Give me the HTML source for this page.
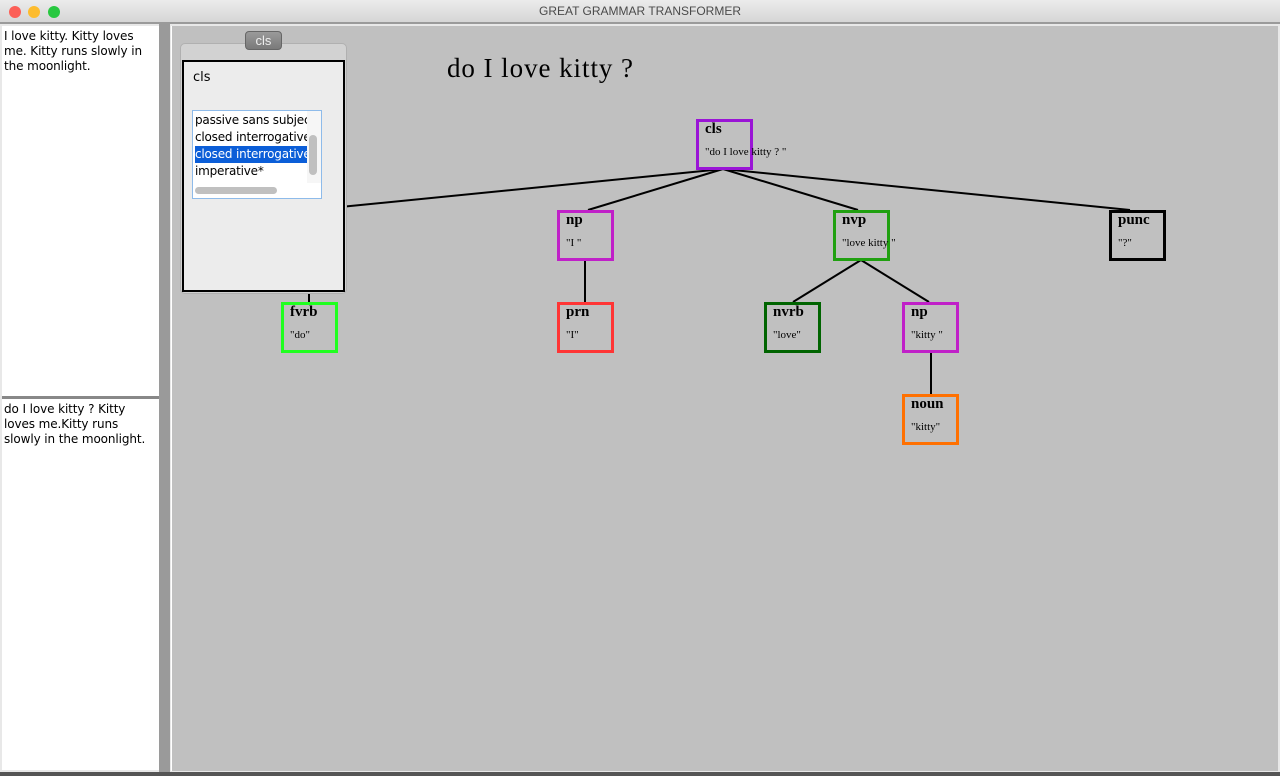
<!DOCTYPE html>
<html><head><style>
*{margin:0;padding:0;box-sizing:border-box}
body{width:1280px;height:776px;overflow:hidden;background:#9a9a9a;position:relative;font-family:"Liberation Sans",sans-serif}
.abs{position:absolute}
.title{left:0;top:0;width:1280px;height:23px;background:linear-gradient(#ececec,#d6d6d6);border-bottom:1px solid #9a9a9a;text-align:center;font-size:12px;color:#4a4a4a;line-height:23px}
.dot{top:6px;width:12px;height:12px;border-radius:50%}
.ta{background:#fff;font-family:"DejaVu Sans",sans-serif;font-size:12px;line-height:15px;color:#000;padding:3px 2px;letter-spacing:-0.1px}
.node{position:absolute;width:57px;height:51px;border:3px solid;font-family:"Liberation Serif",serif;color:#000}
.node b{position:absolute;left:6px;top:-1px;font-size:15px;font-weight:bold}
.node i{position:absolute;left:6px;top:24px;font-size:11px;font-style:normal;white-space:nowrap}
</style></head><body>
<div class="abs title">GREAT GRAMMAR TRANSFORMER</div>
<div class="abs dot" style="left:9px;background:#fc5f57"></div>
<div class="abs dot" style="left:28px;background:#fdbc2e"></div>
<div class="abs dot" style="left:48px;background:#28c840"></div>
<div class="abs" style="left:0;top:24px;width:1280px;height:752px;background:#e8e8e8"></div>
<div class="abs" style="left:159px;top:24px;width:11px;height:748px;background:#9a9a9a"></div>
<div class="abs ta" style="left:2px;top:26px;width:157px;height:370px">I love kitty. Kitty loves me. Kitty runs slowly in the moonlight.</div>
<div class="abs" style="left:2px;top:396px;width:157px;height:3px;background:#888"></div>
<div class="abs ta" style="left:2px;top:399px;width:157px;height:371px">do I love kitty ? Kitty loves me.Kitty runs slowly in the moonlight.</div>
<div class="abs" style="left:0;top:772px;width:1280px;height:4px;background:#555"></div>
<div class="abs" style="left:171px;top:26px;width:1107px;height:745px;background:#c0c0c0;border-left:1px solid #fff"></div>
<svg class="abs" style="left:0;top:0" width="1280" height="776">
<g stroke="#000" stroke-width="2" fill="none">
<line x1="723" y1="169" x2="310" y2="210"/>
<line x1="309" y1="290" x2="309" y2="303"/>
<line x1="723" y1="169" x2="588" y2="210"/>
<line x1="723" y1="169" x2="858" y2="210"/>
<line x1="723" y1="169" x2="1130" y2="210"/>
<line x1="585" y1="260" x2="585" y2="302"/>
<line x1="861" y1="260" x2="793" y2="302"/>
<line x1="861" y1="260" x2="929" y2="302"/>
<line x1="931" y1="352" x2="931" y2="394"/>
</g>
<text x="447" y="77" font-family="Liberation Serif,serif" font-size="27" textLength="186" lengthAdjust="spacing" fill="#000">do I love kitty ?</text>
</svg>
<div class="node" style="left:696px;top:119px;border-color:#9a14d6"><b>cls</b><i>"do I love kitty ? "</i></div>
<div class="node" style="left:557px;top:210px;border-color:#c020c8"><b>np</b><i>"I "</i></div>
<div class="node" style="left:833px;top:210px;border-color:#20a010"><b>nvp</b><i>"love kitty "</i></div>
<div class="node" style="left:1109px;top:210px;border-color:#000"><b>punc</b><i>"?"</i></div>
<div class="node" style="left:281px;top:302px;border-color:#20ff20"><b>fvrb</b><i>"do"</i></div>
<div class="node" style="left:557px;top:302px;border-color:#ff3535"><b>prn</b><i>"I"</i></div>
<div class="node" style="left:764px;top:302px;border-color:#006400"><b>nvrb</b><i>"love"</i></div>
<div class="node" style="left:902px;top:302px;border-color:#c020c8"><b>np</b><i>"kitty "</i></div>
<div class="node" style="left:902px;top:394px;border-color:#ff7000"><b>noun</b><i>"kitty"</i></div>
<!-- panel -->
<div class="abs" style="left:180px;top:43px;width:167px;height:251px;background:#d2d2d2;border:1px solid #b0b0b0;border-radius:5px"></div>
<div class="abs" style="left:245px;top:31px;width:37px;height:19px;background:linear-gradient(#9a9a9a,#7a7a7a);border:1px solid #666;border-radius:4px;color:#eee;font-size:13px;text-align:center;line-height:17px">cls</div>
<div class="abs" style="left:182px;top:60px;width:163px;height:232px;background:#ececec;border:2px solid #000"></div>
<div class="abs" style="left:193px;top:70px;font-family:'DejaVu Sans',sans-serif;font-size:13px;color:#000">cls</div>
<div class="abs" style="left:192px;top:110px;width:130px;height:89px;background:#fff;border:1px solid #8ebbea;overflow:hidden;font-family:'DejaVu Sans',sans-serif;font-size:12px;line-height:17px;color:#000;letter-spacing:-0.2px">
<div style="position:absolute;left:2px;top:1px;width:112px;white-space:nowrap;overflow:hidden">passive sans subject<br>closed interrogative<br><span style="display:block;background:#0b5ed8;color:#fff">closed interrogative</span>imperative*</div>
<div style="position:absolute;left:114px;top:0;width:14px;height:72px;background:#f6f6f6"></div>
<div style="position:absolute;left:116px;top:24px;width:8px;height:40px;background:#c0c0c0;border-radius:4px"></div>
<div style="position:absolute;left:2px;top:76px;width:82px;height:7px;background:#c0c0c0;border-radius:4px"></div>
</div>
</body></html>
